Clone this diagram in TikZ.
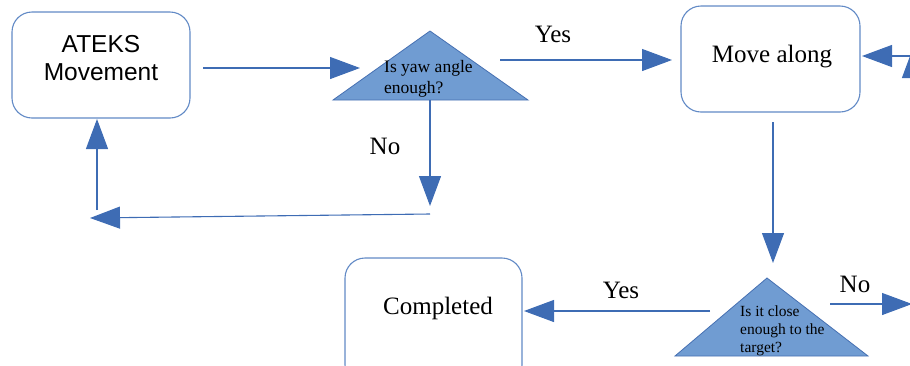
\documentclass[tikz,border=0pt]{standalone}
\usepackage{fontspec}
\setmainfont{Liberation Serif}
\newfontfamily\boxsans{Liberation Sans}
\usetikzlibrary{arrows.meta}
\definecolor{flowline}{RGB}{62,108,180}
\definecolor{boxedge}{RGB}{98,138,198}
\definecolor{decfill}{RGB}{112,156,210}
\definecolor{decedge}{RGB}{70,112,178}
\tikzset{
  procbox/.style={draw=boxedge, line width=1.1pt, rounded corners=20pt, fill=white},
  decision/.style={draw=decedge, line width=0.8pt, fill=decfill},
  flow/.style={draw=flowline, line width=1.1pt, -{Triangle[length=30pt,width=22pt]}},
  lbl/.style={inner sep=0pt, font=\fontsize{25}{28}\selectfont},
  dectext/.style={inner sep=0pt, align=left, anchor=north west}
}
\begin{document}
\begin{tikzpicture}[x=1pt, y=-1pt]
\clip (0,0) rectangle (910,365);
\useasboundingbox (0,0) rectangle (910,365);

% process boxes
\draw[procbox] (12,12) rectangle (190,118);
\node[lbl, align=center, font=\boxsans\fontsize{24.5}{28}\selectfont] (ateks) at (101,58) {ATEKS\\Movement};
\draw[procbox] (681,6) rectangle (860,112);
\node[lbl] (move) at (772,57) {Move along};
\draw[procbox] (345,258) rectangle (522,385);
\node[lbl] (done) at (438,308) {Completed};

% decision triangles
\draw[decision] (430,31) -- (528,100) -- (333,100) -- cycle;
\node[dectext, font=\fontsize{17.5}{21}\selectfont] (yaw) at (384,60) {Is yaw angle\\enough?};
\draw[decision] (767,278) -- (868,356) -- (675,356) -- cycle;
\node[dectext, font=\fontsize{15.5}{18}\selectfont] (close) at (740,306) {Is it close\\enough to the\\target?};

% connector end points
\coordinate (a1s) at (203,68);  \coordinate (a1e) at (360,68);
\coordinate (a2s) at (500,60);  \coordinate (a2e) at (672,60);
\coordinate (a3s) at (918,56);  \coordinate (a3e) at (862,56);
\coordinate (a4s) at (913,120); \coordinate (a4e) at (913,48);
\coordinate (a5s) at (430,100); \coordinate (a5e) at (430,206);
\coordinate (a6s) at (430,214); \coordinate (a6e) at (90,218);
\coordinate (a7s) at (97,210);  \coordinate (a7e) at (97,119);
\coordinate (a8s) at (773,122); \coordinate (a8e) at (773,263);
\coordinate (a9s) at (830,304); \coordinate (a9e) at (912,304);
\coordinate (a10s) at (710,311); \coordinate (a10e) at (524,311);

\draw[flow] (a1s) -- (a1e);
\draw[flow] (a2s) -- (a2e);
\draw[flow] (a3s) -- (a3e);
\draw[flow] (a4s) -- (a4e);
\draw[flow] (a5s) -- (a5e);
\draw[flow] (a6s) -- (a6e);
\draw[flow] (a7s) -- (a7e);
\draw[flow] (a8s) -- (a8e);
\draw[flow] (a9s) -- (a9e);
\draw[flow] (a10s) -- (a10e);

% branch labels
\node[lbl] (yes1) at (553,34) {Yes};
\node[lbl] (no1) at (385,146) {No};
\node[lbl] (no2) at (855,284) {No};
\node[lbl] (yes2) at (621,290) {Yes};
\end{tikzpicture}
\end{document}
